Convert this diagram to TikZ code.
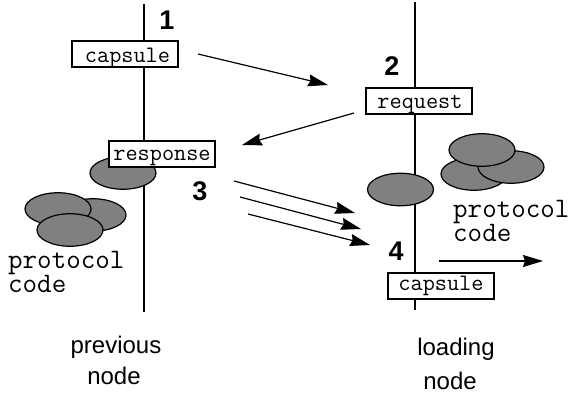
\documentclass[tikz,border=0pt]{standalone}
\usepackage{fontspec}
\setmainfont{Liberation Sans}
\usetikzlibrary{arrows.meta,shapes.geometric}
\definecolor{blobgray}{HTML}{808080}
\newcommand{\boxlabel}[3]{\hspace*{#1pt}\raisebox{-#2pt}{#3}}
\tikzset{
  wire/.style={line width=1.2pt,black},
  arrowline/.style={line width=1.2pt,black,-{Stealth[length=20pt,width=12pt,inset=2pt]}},
  msgbox/.style={draw=black,line width=1.2pt,fill=white,minimum width=106pt,minimum height=26pt,inner sep=0pt,
     text height=0pt,text depth=0pt,font=\ttfamily\fontsize{23.6}{23.6}\selectfont},
  blob/.style={draw=black,line width=1.2pt,fill=blobgray,ellipse,minimum width=66pt,minimum height=32.5pt,inner sep=0pt},
  numlabel/.style={anchor=base,inner sep=0pt,font=\bfseries\fontsize{27}{27}\selectfont},
  codelabel/.style={anchor=base west,inner sep=0pt,font=\ttfamily\fontsize{28.2}{28.2}\selectfont},
  caption/.style={anchor=base,inner sep=0pt,font=\fontsize{24}{24}\selectfont},
}
\begin{document}
\begin{tikzpicture}[x=1pt,y=-1pt]
\useasboundingbox (0,0) rectangle (569,396);
\coordinate (ltop) at (144,4);
\coordinate (lbot) at (144,312);
\coordinate (rtop) at (415,2);
\coordinate (rbot) at (415,310);
\draw[wire] (ltop) -- (lbot);
\draw[wire] (rtop) -- (rbot);
% protocol blobs
\node[blob] (b1) at (123,173) {};
\node[blob] (b2) at (93,215) {};
\node[blob] (b3) at (58,209) {};
\node[blob] (b4) at (70,230) {};
\node[blob] (b5) at (400.5,189.5) {};
\node[blob] (b6) at (474,174) {};
\node[blob] (b7) at (511,167) {};
\node[blob] (b8) at (482,150) {};
% message boxes
\node[msgbox] (cap1) at (125,54) {\boxlabel{5}{8}{capsule}};
\node[msgbox] (resp) at (162,154) {\boxlabel{0}{6}{response}};
\node[msgbox] (req) at (419,101) {\boxlabel{2}{7.7}{request}};
\node[msgbox] (cap2) at (441,286) {\boxlabel{0}{4.7}{capsule}};
% numbers
\node[numlabel] (n1) at (167,30) {1};
\node[numlabel] (n2) at (392,75) {2};
\node[numlabel] (n3) at (200,200) {3};
\node[numlabel] (n4) at (396,260) {4};
% code labels
\node[codelabel] (c1a) at (8,268.5) {protocol};
\node[codelabel] (c1b) at (8,292.5) {code};
\node[codelabel] (c2a) at (453,217) {protocol};
\node[codelabel] (c2b) at (453,241.5) {code};
% captions
\node[caption] (p1) at (116,353) {previous};
\node[caption] (p2) at (114,384) {node};
\node[caption] (l1) at (456,355) {loading};
\node[caption] (l2) at (450,389) {node};
% arrows
\coordinate (a1s) at (198,54);   \coordinate (a1e) at (328,85);
\coordinate (a2s) at (354,113);  \coordinate (a2e) at (242,145);
\coordinate (a3s) at (234,181);  \coordinate (a3e) at (355,213);
\coordinate (a4s) at (240,197);  \coordinate (a4e) at (361,229);
\coordinate (a5s) at (248,214);  \coordinate (a5e) at (370,245);
\coordinate (a6s) at (439,261);  \coordinate (a6e) at (543,261);
\draw[arrowline] (a1s) -- (a1e);
\draw[arrowline] (a2s) -- (a2e);
\draw[arrowline] (a3s) -- (a3e);
\draw[arrowline] (a4s) -- (a4e);
\draw[arrowline] (a5s) -- (a5e);
\draw[arrowline] (a6s) -- (a6e);
\end{tikzpicture}
\end{document}
